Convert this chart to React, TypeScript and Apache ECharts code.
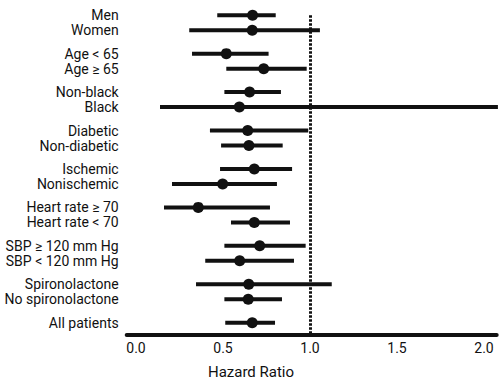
import React, { useEffect, useRef } from "react";
import * as echarts from "echarts";

const labels = [
  "Men", "Women",
  "Age < 65", "Age ≥ 65",
  "Non-black", "Black",
  "Diabetic", "Non-diabetic",
  "Ischemic", "Nonischemic",
  "Heart rate ≥ 70", "Heart rate < 70",
  "SBP ≥ 120 mm Hg", "SBP < 120 mm Hg",
  "Spironolactone", "No spironolactone",
  "All patients",
];
const groupIndex = [0, 0, 1, 1, 2, 2, 3, 3, 4, 4, 5, 5, 6, 6, 7, 7, 8];
const withinIndex = [0, 1, 0, 1, 0, 1, 0, 1, 0, 1, 0, 1, 0, 1, 0, 1, 0];
const hazard = [0.67, 0.668, 0.519, 0.734, 0.653, 0.594, 0.642, 0.649, 0.68, 0.498, 0.358, 0.68, 0.711, 0.596, 0.648, 0.645, 0.668];
const lower = [0.467, 0.306, 0.322, 0.519, 0.508, 0.138, 0.425, 0.489, 0.483, 0.207, 0.161, 0.546, 0.508, 0.398, 0.345, 0.508, 0.513];
const upper = [0.803, 1.057, 0.762, 0.981, 0.833, 2.08, 0.99, 0.843, 0.897, 0.81, 0.77, 0.885, 0.975, 0.908, 1.125, 0.839, 0.799];
const xTicks = [0, 0.5, 1.0, 1.5, 2.0];
const refValue = 1.0;

const FONT = "Roboto, 'Liberation Sans', sans-serif";
const INK = "#111111";
const GROUP_STEP = 2.56;

const rowPos = labels.map((_, i) => groupIndex[i] * GROUP_STEP + withinIndex[i]);

export default function App() {
  const ref = useRef<HTMLDivElement>(null);
  useEffect(() => {
    if (!ref.current) return;
    const chart = echarts.init(ref.current, null, { renderer: "svg" });
    const labelFor = (v: number) => {
      let best = -1;
      let bd = 1e9;
      rowPos.forEach((p, i) => {
        const d = Math.abs(p - v);
        if (d < bd) { bd = d; best = i; }
      });
      return bd < 1e-3 ? labels[best] : "";
    };
    chart.setOption({
      animation: false,
      backgroundColor: "#ffffff",
      grid: {
        left: 126.7,
        right: 5.3,
        top: 15.2,
        bottom: 384 - 334.7,
        containLabel: false,
        outerBoundsMode: "none",
      },
      xAxis: {
        type: "value",
        min: -0.0534,
        max: 2.073,
        axisLine: { show: true, onZero: false, lineStyle: { color: INK, width: 4 } },
        axisTick: { show: false },
        splitLine: { show: false },
        axisLabel: {
          customValues: xTicks,
          formatter: (v: number) => v.toFixed(1),
          fontFamily: FONT,
          fontSize: 14,
          color: INK,
          margin: 6,
        },
      },
      yAxis: {
        type: "value",
        inverse: true,
        min: 0,
        max: 21.28,
        axisLine: { show: false, onZero: false },
        axisTick: { show: false },
        splitLine: { show: false },
        axisLabel: {
          customValues: rowPos,
          formatter: (v: number) => labelFor(v),
          showMinLabel: true,
          showMaxLabel: true,
          hideOverlap: false,
          fontFamily: FONT,
          fontSize: 14,
          color: INK,
          margin: 8,
        },
      },
      graphic: [
        {
          type: "text",
          left: "center",
          top: 364,
          style: { text: "Hazard Ratio", font: `15px ${FONT}`, fill: INK },
        },
      ],
      series: [
        {
          type: "custom",
          data: labels.map((_, i) => [lower[i], upper[i], rowPos[i]]),
          renderItem: (params: any, api: any) => {
            const a = api.coord([api.value(0), api.value(2)]);
            const b = api.coord([api.value(1), api.value(2)]);
            return {
              type: "line",
              shape: { x1: a[0], y1: a[1], x2: b[0], y2: b[1] },
              style: { stroke: INK, lineWidth: 4 },
            };
          },
          encode: { x: [0, 1], y: 2 },
          clip: false,
          markLine: {
            silent: true,
            symbol: ["none", "none"],
            label: { show: false },
            lineStyle: { color: INK, width: 3, type: [2.5, 1.5], opacity: 1 },
            data: [{ xAxis: refValue }],
          },
          z: 2,
        },
        {
          type: "scatter",
          data: labels.map((_, i) => [hazard[i], rowPos[i]]),
          symbol: "circle",
          symbolSize: 11,
          itemStyle: { color: INK, opacity: 1 },
          z: 3,
        },
      ],
    });
    return () => chart.dispose();
  }, []);
  return (
    <div
      ref={ref}
      style={{ position: "fixed", left: 0, top: 0, width: 502, height: 384, background: "#fff" }}
    />
  );
}
